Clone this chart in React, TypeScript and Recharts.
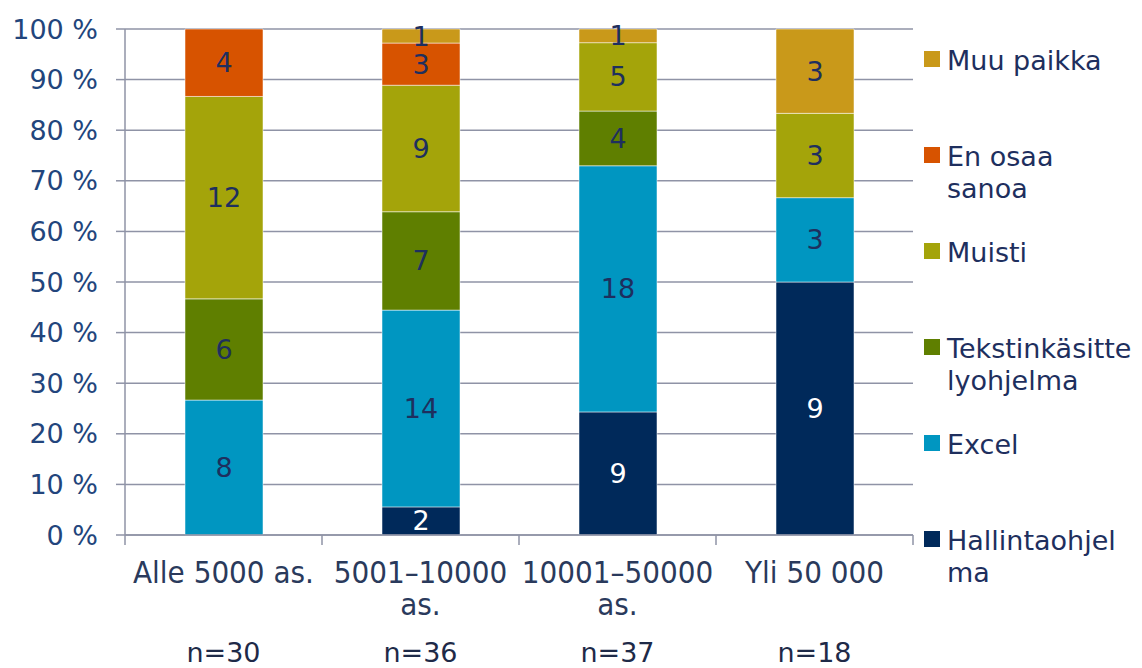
import { BarChart, Bar, XAxis, YAxis, CartesianGrid, Legend, LabelList } from 'recharts';

const categories = ['Alle 5000 as.', '5001–10000\nas.', '10001–50000\nas.', 'Yli 50 000'];
const sampleSizes = [30, 36, 37, 18];

const hallintaohjelma = [0, 2, 9, 9];
const excel = [8, 14, 18, 3];
const tekstinkasittely = [6, 7, 4, 0];
const muisti = [12, 9, 5, 3];
const enOsaaSanoa = [4, 3, 0, 0];
const muuPaikka = [0, 1, 1, 3];

const yTicks = [0, 0.1, 0.2, 0.3, 0.4, 0.5, 0.6, 0.7, 0.8, 0.9, 1];

// bottom of the stack first
const series = [
  { key: 'hallinta', name: 'Hallintaohjelma', values: hallintaohjelma, color: '#00295a', text: '#ffffff' },
  { key: 'excel', name: 'Excel', values: excel, color: '#0096c1', text: '#1e2f5e' },
  { key: 'teksti', name: 'Tekstinkäsittelyohjelma', values: tekstinkasittely, color: '#5f7f00', text: '#1e2f5e' },
  { key: 'muisti', name: 'Muisti', values: muisti, color: '#a4a40a', text: '#1e2f5e' },
  { key: 'enosaa', name: 'En osaa sanoa', values: enOsaaSanoa, color: '#d75300', text: '#1e2f5e' },
  { key: 'muu', name: 'Muu paikka', values: muuPaikka, color: '#c9991a', text: '#1e2f5e' },
];

const rows = categories.map((name, i) => {
  const row: any = { name, n: sampleSizes[i] };
  series.forEach((s) => {
    row[s.key] = s.values[i];
  });
  return row;
});

const FONT = '"DejaVu Sans", Verdana, sans-serif';
const GRID = '#8f93a6';
const PLOT_LEFT = 125;
const PLOT_RIGHT = 913;
const LEGEND_W = 218;
const STEP = (PLOT_RIGHT - PLOT_LEFT) / categories.length;

const XTick = (props: any) => {
  const { x, y, payload, index } = props;
  const lines = String(payload.value).split('\n');
  return (
    <g>
      <line x1={x - STEP / 2} y1={y} x2={x - STEP / 2} y2={y + 10} stroke={GRID} strokeWidth={1.5} />
      {index === categories.length - 1 && (
        <line x1={x + STEP / 2} y1={y} x2={x + STEP / 2} y2={y + 10} stroke={GRID} strokeWidth={1.5} />
      )}
      <text
        x={x}
        y={y}
        textAnchor="middle"
        fill="#2a3a5c"
        fontSize={31}
        fontFamily='"DejaVu Sans Condensed", "DejaVu Sans", sans-serif'
      >
        {lines.map((l, i) => (
          <tspan key={i} x={x} dy={i === 0 ? 48 : 32}>
            {l}
          </tspan>
        ))}
      </text>
      <text x={x} y={y + 127} textAnchor="middle" fill="#1e2a48" fontSize={27} fontFamily={FONT}>
        {`n=${sampleSizes[index]}`}
      </text>
    </g>
  );
};

// zero-height segments may be skipped, so find the category from the bar position
const makeLabel = (key: string, color: string) => (props: any) => {
  const { x, y, width, height } = props;
  const idx = Math.floor((x + width / 2 - PLOT_LEFT) / STEP);
  const v = rows[idx]?.[key];
  if (!v) return null;
  return (
    <text
      x={x + width / 2}
      y={y + height / 2}
      textAnchor="middle"
      dominantBaseline="central"
      fill={color}
      fontSize={27}
      fontFamily={FONT}
    >
      {v}
    </text>
  );
};

const SideLegend = () => (
  <div style={{ fontFamily: FONT, fontSize: 27, color: '#1e2f5e', lineHeight: '32px' }}>
    {[...series].reverse().map((s) => (
      <div key={s.key} style={{ display: 'flex', alignItems: 'flex-start', height: 96 }}>
        <div style={{ width: 16, height: 16, background: s.color, marginTop: 6, marginRight: 7, flexShrink: 0 }} />
        <div style={{ width: 186, overflowWrap: 'anywhere' }}>{s.name}</div>
      </div>
    ))}
  </div>
);

export default function App() {
  return (
    <div style={{ position: 'absolute', left: 0, top: 0, background: '#fff' }}>
      <BarChart
        width={1142}
        height={668}
        data={rows}
        stackOffset="expand"
        margin={{ top: 29, right: 1142 - PLOT_RIGHT - LEGEND_W, left: 0, bottom: 0 }}
        barSize={78}
      >
        <CartesianGrid vertical={false} stroke={GRID} strokeWidth={1.5} />
        <XAxis
          dataKey="name"
          height={133}
          tickLine={false}
          tickSize={0}
          tickMargin={0}
          axisLine={{ stroke: GRID, strokeWidth: 1.5 }}
          tick={<XTick />}
          interval={0}
        />
        <YAxis
          width={PLOT_LEFT}
          domain={[0, 1]}
          ticks={yTicks}
          tickFormatter={(v: number) => `${Math.round(v * 100)} %`}
          tickSize={9}
          tickMargin={18}
          tickLine={{ stroke: GRID, strokeWidth: 1.5 }}
          axisLine={{ stroke: GRID, strokeWidth: 1.5 }}
          tick={{ fill: '#22457c', fontSize: 27, fontFamily: FONT }}
        />
        <Legend
          layout="vertical"
          verticalAlign="top"
          align="right"
          content={<SideLegend />}
          wrapperStyle={{ position: 'absolute', left: 924, top: 45, width: LEGEND_W }}
        />
        {series.map((s) => (
          <Bar
            key={s.key}
            dataKey={s.key}
            name={s.name}
            stackId="a"
            fill={s.color}
            stroke="#ffffff"
            strokeOpacity={0.5}
            strokeWidth={1}
            isAnimationActive={false}
          >
            <LabelList dataKey={s.key} content={makeLabel(s.key, s.text)} />
          </Bar>
        ))}
      </BarChart>
    </div>
  );
}
